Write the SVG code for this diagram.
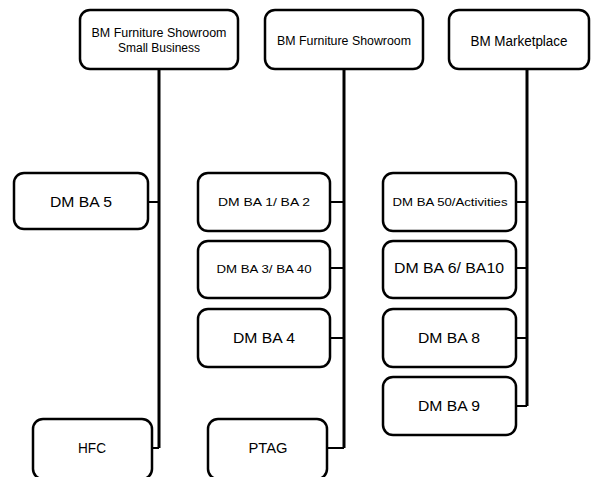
<svg xmlns="http://www.w3.org/2000/svg" width="605" height="477" viewBox="0 0 605 477">
  <style>
    .box { fill: #ffffff; stroke: #000000; stroke-width: 2.5; }
    .trunk { fill: none; stroke: #000000; stroke-width: 3; }
    .link { fill: none; stroke: #000000; stroke-width: 2; }
    text { font-family: "Liberation Sans", Arial, sans-serif; fill: #000000; text-anchor: middle; }
    .big { font-size: 14px; }
    .mid { font-size: 12px; }
    .small { font-size: 11px; }
  </style>
  <rect width="605" height="477" fill="#ffffff"/>

  <!-- connectors -->
  <g id="connectors">
    <!-- left column trunk -->
    <path class="trunk" d="M159 68 V448"/>
    <path class="link" d="M148 202 H159"/>
    <path class="link" d="M152 448 H159"/>
    <!-- middle column trunk -->
    <path class="trunk" d="M344 68 V448"/>
    <path class="link" d="M330 202 H344"/>
    <path class="link" d="M330 268 H344"/>
    <path class="link" d="M330 338 H344"/>
    <path class="link" d="M327 448 H344"/>
    <!-- right column trunk -->
    <path class="trunk" d="M527 68 V406"/>
    <path class="link" d="M516 202 H527"/>
    <path class="link" d="M516 268 H527"/>
    <path class="link" d="M516 338 H527"/>
    <path class="link" d="M516 406 H527"/>
  </g>

  <!-- top level -->
  <g id="bm-showroom-small-business">
    <rect class="box" x="80" y="10" width="158" height="59" rx="10"/>
    <text class="mid" x="159" y="37" textLength="135" lengthAdjust="spacingAndGlyphs">BM Furniture Showroom</text>
    <text class="mid" x="159" y="52" textLength="82" lengthAdjust="spacingAndGlyphs">Small Business</text>
  </g>
  <g id="bm-showroom">
    <rect class="box" x="265" y="10" width="158" height="59" rx="10"/>
    <text class="mid" x="344" y="45" textLength="134" lengthAdjust="spacingAndGlyphs">BM Furniture Showroom</text>
  </g>
  <g id="bm-marketplace">
    <rect class="box" x="449" y="10" width="140" height="59" rx="10"/>
    <text class="big" x="519" y="46" textLength="97" lengthAdjust="spacingAndGlyphs">BM Marketplace</text>
  </g>

  <!-- left column -->
  <g id="dm-ba-5">
    <rect class="box" x="14" y="173" width="134" height="56" rx="10"/>
    <text class="big" x="81" y="207" textLength="62" lengthAdjust="spacingAndGlyphs">DM BA 5</text>
  </g>
  <g id="hfc">
    <rect class="box" x="33" y="419" width="119" height="60" rx="10"/>
    <text class="big" x="92" y="453" textLength="28" lengthAdjust="spacingAndGlyphs">HFC</text>
  </g>

  <!-- middle column -->
  <g id="dm-ba-1-ba-2">
    <rect class="box" x="198" y="173" width="132" height="58" rx="10"/>
    <text class="small" x="264" y="206" textLength="92" lengthAdjust="spacingAndGlyphs">DM BA 1/ BA 2</text>
  </g>
  <g id="dm-ba-3-ba-40">
    <rect class="box" x="198" y="241" width="132" height="57" rx="10"/>
    <text class="small" x="264" y="273" textLength="95" lengthAdjust="spacingAndGlyphs">DM BA 3/ BA 40</text>
  </g>
  <g id="dm-ba-4">
    <rect class="box" x="198" y="309" width="132" height="58" rx="10"/>
    <text class="big" x="264" y="343" textLength="62" lengthAdjust="spacingAndGlyphs">DM BA 4</text>
  </g>
  <g id="ptag">
    <rect class="box" x="208" y="419" width="119" height="60" rx="10"/>
    <text class="big" x="268" y="453" textLength="39" lengthAdjust="spacingAndGlyphs">PTAG</text>
  </g>

  <!-- right column -->
  <g id="dm-ba-50-activities">
    <rect class="box" x="383" y="173" width="133" height="58" rx="10"/>
    <text class="small" x="450" y="206" textLength="115" lengthAdjust="spacingAndGlyphs">DM BA 50/Activities</text>
  </g>
  <g id="dm-ba-6-ba10">
    <rect class="box" x="383" y="241" width="133" height="57" rx="10"/>
    <text class="big" x="449" y="273" textLength="110" lengthAdjust="spacingAndGlyphs">DM BA 6/ BA10</text>
  </g>
  <g id="dm-ba-8">
    <rect class="box" x="383" y="309" width="133" height="58" rx="10"/>
    <text class="big" x="449" y="343" textLength="62" lengthAdjust="spacingAndGlyphs">DM BA 8</text>
  </g>
  <g id="dm-ba-9">
    <rect class="box" x="383" y="377" width="133" height="58" rx="10"/>
    <text class="big" x="449" y="411" textLength="62" lengthAdjust="spacingAndGlyphs">DM BA 9</text>
  </g>
</svg>
